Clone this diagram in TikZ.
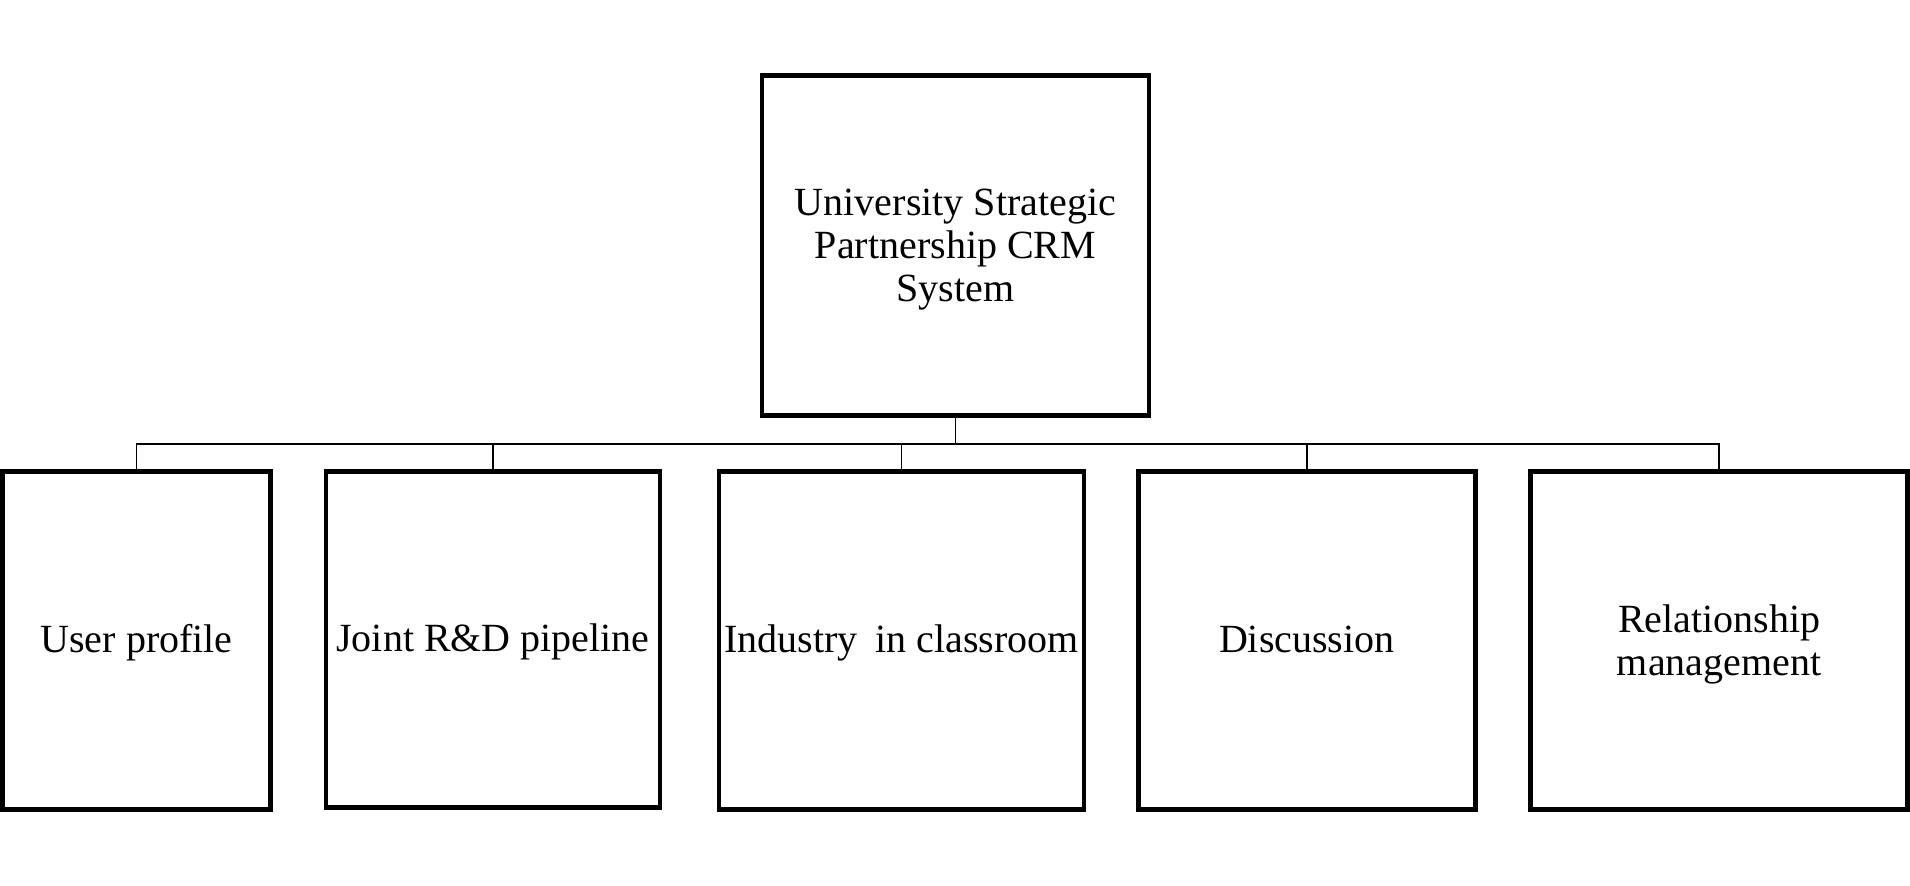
\documentclass[tikz,border=0pt]{standalone}
\usepackage{fontspec}
\setmainfont{Liberation Serif}
\begin{document}
\begin{tikzpicture}[x=0.5pt,y=-0.5pt,
  box/.style={draw=black,line width=2.35pt,rectangle,inner sep=0pt},
  txt/.style={inner sep=0pt,align=center,font=\fontsize{20pt}{21.5pt}\selectfont,text=black},
  link/.style={draw=black,line width=0.75pt}]
\useasboundingbox (0,0) rectangle (1910,886);
\node[box,minimum width=387pt*0.5,minimum height=340pt*0.5] (root) at (955.5,245.5) {};
\node[box,minimum width=268pt*0.5,minimum height=338pt*0.5] (user) at (136.6,640.4) {};
\node[box,minimum width=334pt*0.5,minimum height=336pt*0.5] (joint) at (493,639.4) {};
\node[box,minimum width=365pt*0.5,minimum height=338pt*0.5] (ind) at (901.5,640.4) {};
\node[box,minimum width=337pt*0.5,minimum height=338pt*0.5] (disc) at (1306.8,640.4) {};
\node[box,minimum width=377pt*0.5,minimum height=338pt*0.5] (rel) at (1719.1,640.4) {};
\node[txt] (rootT) at ([yshift=-1.8pt]root.center) {University Strategic\\Partnership CRM\\System};
\node[txt] (userT) at ([yshift=-1.8pt]user.center) {\strut User profile};
\node[txt] (jointT) at ([yshift=-1.8pt]joint.center) {\strut Joint R\&D pipeline};
\node[txt] (indT) at ([yshift=-1.8pt]ind.center) {\strut Industry\hspace{0.45em}in classroom};
\node[txt] (discT) at ([yshift=-1.8pt]disc.center) {\strut Discussion};
\node[txt] (relT) at ([yshift=-1.8pt]rel.center) {Relationship\\management};
\coordinate (bus) at (954,444);
\draw[link] (root.south) -- (root.south |- bus);
\foreach \n in {user,joint,ind,disc,rel}{
  \draw[link] (\n.north) |- (bus);
}
\end{tikzpicture}
\end{document}
